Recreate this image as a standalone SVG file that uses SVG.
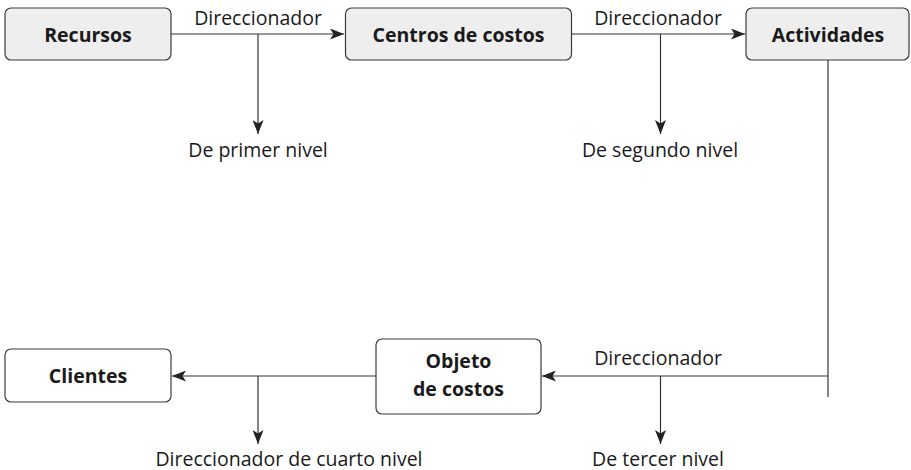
<svg xmlns="http://www.w3.org/2000/svg" width="911" height="470" viewBox="0 0 911 470">
<style>
.box{stroke:#3a3a3a;stroke-width:1.2}
.g{fill:#eeeeee}
.w{fill:#ffffff}
.lbl{font-family:"Open Sans","Noto Sans",sans-serif;font-weight:bold;font-size:19.5px;fill:#1a1a1a;text-anchor:middle}
.t{font-family:"Open Sans","Noto Sans",sans-serif;font-size:19.5px;fill:#1a1a1a;text-anchor:middle}
.ln{stroke:#333;stroke-width:1.2;fill:none}
</style>
<defs>
<marker id="ah" viewBox="0 0 14 11" refX="14" refY="5.5" markerWidth="14" markerHeight="11" markerUnits="userSpaceOnUse" orient="auto">
<path d="M0,0 L14,5.5 L0,11 L3.5,5.5 Z" fill="#222"/>
</marker>
</defs>
<g id="recursos"><rect class="box g" x="5" y="8" width="166" height="52" rx="6"/><text class="lbl" x="88" y="41.5">Recursos</text></g>
<g id="centros"><rect class="box g" x="345.5" y="8" width="226" height="52" rx="6"/><text class="lbl" x="458.5" y="41.5">Centros de costos</text></g>
<g id="actividades"><rect class="box g" x="746" y="8" width="163" height="52" rx="6"/><text class="lbl" x="828" y="41.5">Actividades</text></g>
<g id="clientes"><rect class="box w" x="5" y="349" width="166" height="53" rx="6"/><text class="lbl" x="88" y="382.5">Clientes</text></g>
<g id="objeto"><rect class="box w" x="376" y="339" width="165" height="75" rx="6"/><text class="lbl" x="458.5" y="368">Objeto</text><text class="lbl" x="458.5" y="396">de costos</text></g>
<g id="connectors">
<line class="ln" x1="171" y1="34" x2="344" y2="34" marker-end="url(#ah)"/>
<line class="ln" x1="258" y1="34" x2="258" y2="134" marker-end="url(#ah)"/>
<line class="ln" x1="571.5" y1="34" x2="745" y2="34" marker-end="url(#ah)"/>
<line class="ln" x1="660.5" y1="34" x2="660.5" y2="134" marker-end="url(#ah)"/>
<line class="ln" x1="828" y1="60" x2="828" y2="397"/>
<line class="ln" x1="828" y1="376" x2="542" y2="376" marker-end="url(#ah)"/>
<line class="ln" x1="660.5" y1="376" x2="660.5" y2="444" marker-end="url(#ah)"/>
<line class="ln" x1="376" y1="376" x2="172" y2="376" marker-end="url(#ah)"/>
<line class="ln" x1="258" y1="376" x2="258" y2="444" marker-end="url(#ah)"/>
</g>
<g id="labels">
<text class="t" x="258" y="24.5">Direccionador</text>
<text class="t" x="658" y="24.5">Direccionador</text>
<text class="t" x="258" y="157">De primer nivel</text>
<text class="t" x="660" y="157">De segundo nivel</text>
<text class="t" x="658" y="365">Direccionador</text>
<text class="t" x="658" y="465.5">De tercer nivel</text>
<text class="t" x="289" y="465.5">Direccionador de cuarto nivel</text>
</g>
</svg>
